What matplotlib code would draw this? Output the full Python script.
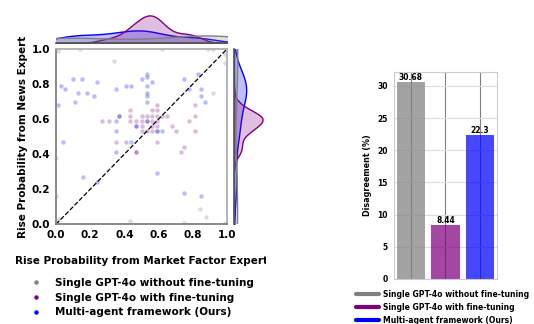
import numpy as np
import pandas as pd
import matplotlib
matplotlib.use("Agg")
import matplotlib.pyplot as plt
import seaborn as sns
from matplotlib.lines import Line2D
from matplotlib.transforms import Bbox, TransformedBbox

# --- scatter data ---
gray_x = [0.01, 0.14, 0.34, 0.62, 0.89, 0.92, 0.99, 0.99, 0.92, 0.0, 0.0, 0.0,
          0.43, 0.75, 0.84, 0.88, 0.99, 0.02]
gray_y = [0.99, 1.0, 0.93, 1.0, 1.0, 1.0, 0.97, 0.92, 0.75, 0.38, 0.16, 0.02,
          0.02, 0.01, 0.09, 0.04, 0.01, 0.03]

purple_x = [0.27, 0.31, 0.43, 0.43, 0.43, 0.47, 0.50, 0.50, 0.53, 0.53, 0.56, 0.56,
            0.56, 0.59, 0.59, 0.59, 0.59, 0.62, 0.65, 0.50, 0.56, 0.59, 0.68, 0.70,
            0.50, 0.53, 0.56, 0.35, 0.41, 0.47, 0.59, 0.75, 0.73, 0.81, 0.81, 0.78,
            0.81, 0.59, 0.47]
purple_y = [0.59, 0.59, 0.65, 0.62, 0.59, 0.59, 0.62, 0.59, 0.62, 0.59, 0.65, 0.62,
            0.59, 0.68, 0.65, 0.62, 0.59, 0.62, 0.62, 0.56, 0.56, 0.56, 0.56, 0.53,
            0.53, 0.53, 0.53, 0.47, 0.47, 0.41, 0.47, 0.44, 0.41, 0.68, 0.62, 0.59,
            0.53, 0.53, 0.41]

blue_x = [0.10, 0.15, 0.03, 0.05, 0.24, 0.13, 0.18, 0.11, 0.22, 0.01, 0.35, 0.41,
          0.44, 0.50, 0.53, 0.53, 0.53, 0.56, 0.53, 0.53, 0.53, 0.75, 0.83, 0.78,
          0.85, 0.85, 0.87, 0.04, 0.35, 0.37, 0.35, 0.35, 0.44, 0.47, 0.53, 0.59,
          0.62, 0.59, 0.16, 0.24, 0.75, 0.85, 0.37, 0.47]
blue_y = [0.83, 0.83, 0.79, 0.77, 0.81, 0.75, 0.75, 0.70, 0.73, 0.68, 0.77, 0.79,
          0.79, 0.83, 0.86, 0.84, 0.79, 0.81, 0.75, 0.73, 0.70, 0.83, 0.86, 0.77,
          0.77, 0.73, 0.70, 0.47, 0.59, 0.62, 0.53, 0.41, 0.47, 0.56, 0.59, 0.53,
          0.53, 0.29, 0.27, 0.24, 0.18, 0.16, 0.62, 0.56]

groups = ["Single GPT-4o without fine-tuning",
          "Single GPT-4o with fine-tuning",
          "Multi-agent framework (Ours)"]
colors = ["gray", "purple", "blue"]

# --- bar data ---
disagree = [30.68, 8.44, 22.3]

df = pd.DataFrame({
    "x": gray_x + purple_x + blue_x,
    "y": gray_y + purple_y + blue_y,
    "group": [groups[0]] * len(gray_x) + [groups[1]] * len(purple_x)
             + [groups[2]] * len(blue_x),
})
pal = dict(zip(groups, colors))

plt.rcParams["font.family"] = ["DejaVu Sans"]
plt.rcParams["font.weight"] = "bold"

W, H = 534, 324
fig = plt.figure(figsize=(W / 100, H / 100), dpi=100)


def rect(l, t, r, b):
    return [l / W, 1 - b / H, (r - l) / W, (b - t) / H]


ax = fig.add_axes(rect(56, 49, 227, 224.3))
ax_top = fig.add_axes(rect(56, 14, 227, 43.3), sharex=ax)
ax_right = fig.add_axes(rect(234, 49, 264, 224.3), sharey=ax)

for g in groups:
    sub = df[df.group == g]
    ax.scatter(sub.x, sub.y, s=11, color=pal[g], alpha=0.27,
               edgecolors="white", linewidths=0.4)
ax.plot([0, 1], [0, 1], ls="--", color="black", lw=0.9)
ax.set_xlim(0, 1)
ax.set_ylim(0, 1)
ax.set_xticks(np.arange(0, 1.01, 0.2))
ax.set_yticks(np.arange(0, 1.01, 0.2))
ax.tick_params(length=0, pad=4, labelsize=7.5)
for s in ["left", "bottom"]:
    ax.spines[s].set_color("#808080")
    ax.spines[s].set_linewidth(1.3)
for s in ["top", "right"]:
    ax.spines[s].set_color("#b0b0b0")
    ax.spines[s].set_linewidth(1.3)
ax.set_ylabel("Rise Probability from News Expert", fontsize=7.5,
              fontweight="bold", labelpad=3)

sns.kdeplot(data=df, x="x", hue="group", hue_order=groups, palette=pal,
            fill=True, common_norm=False, alpha=0.25, linewidth=1,
            legend=False, ax=ax_top)
sns.kdeplot(data=df, y="y", hue="group", hue_order=groups, palette=pal,
            fill=True, common_norm=False, alpha=0.25, linewidth=1,
            legend=False, ax=ax_right)
ax.set_xlim(0, 1)
ax.set_ylim(0, 1)
for a, keep in [(ax_top, "bottom"), (ax_right, "left")]:
    for s in a.spines:
        a.spines[s].set_visible(s == keep)
    a.spines[keep].set_color("#505050")
    a.spines[keep].set_linewidth(1.2)
    a.tick_params(left=False, bottom=False, labelleft=False, labelbottom=False)
    a.set_xlabel("")
    a.set_ylabel("")
ax_top.set_ylim(bottom=0)
ax_right.set_xlim(left=0)

xl = fig.text(141.5 / W, 1 - 260.5 / H, "Rise Probability from Market Factor Expert",
              ha="center", va="center", fontsize=7.5, fontweight="bold")
xl.set_clip_box(TransformedBbox(Bbox([[0, 0], [266 / W, 1]]), fig.transFigure))
xl.set_clip_on(True)

h1 = [Line2D([], [], ls="", marker="o", markersize=2.2, color=c) for c in colors]
fig.legend(h1, groups, loc="upper left", bbox_to_anchor=(26 / W, 1 - 278 / H),
           frameon=False, prop={"weight": "bold", "size": 7.5},
           borderpad=0, borderaxespad=0, handlelength=2, handletextpad=0.8,
           labelspacing=0.45)

# --- bar chart ---
bx = fig.add_axes(rect(393.5, 71.7, 497.3, 279))
pos = np.arange(len(disagree))
bx.bar(pos, disagree, width=0.82, color=colors, alpha=0.72, zorder=2)
for p, v in zip(pos, disagree):
    bx.text(p, v, str(v), ha="center", va="bottom", fontsize=5.5,
            fontweight="bold", zorder=3)
bx.set_xlim(-0.5, len(disagree) - 0.5)
bx.set_xticks(pos)
bx.set_xticklabels([])
bx.set_yticks(np.arange(0, 31, 5))
bx.tick_params(length=0, labelsize=5.5, pad=4)
bx.set_axisbelow(True)
bx.grid(axis="y", color="#dddddd", lw=0.8)
bx.grid(axis="x", color="#808080", lw=0.8)
for s in bx.spines.values():
    s.set_color("#cccccc")
bx.set_ylabel("Disagreement (%)", fontsize=5.8, fontweight="bold", labelpad=4)

h2 = [Line2D([], [], color=c, lw=3, solid_capstyle="round") for c in colors]
fig.legend(h2, groups, loc="upper left", bbox_to_anchor=(356 / W, 1 - 290 / H),
           frameon=False, prop={"weight": "bold", "size": 5.5},
           borderpad=0, borderaxespad=0, handlelength=3, handletextpad=0.5,
           labelspacing=0.5)

fig.savefig("out.png", dpi=100)
